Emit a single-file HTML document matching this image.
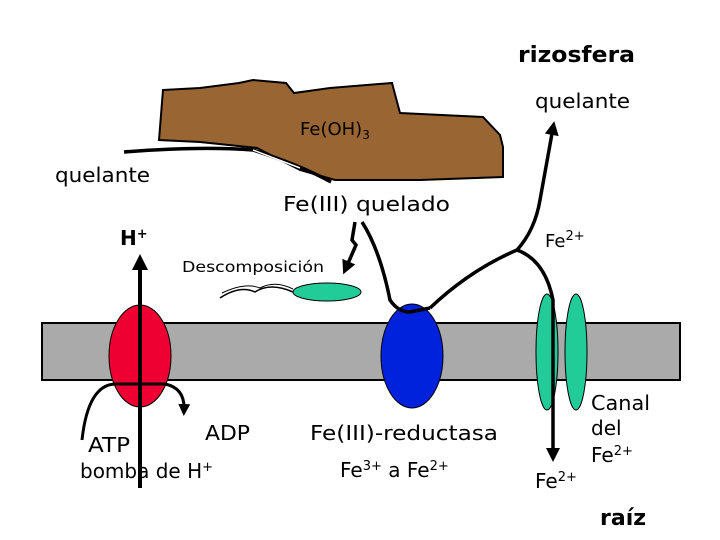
<!DOCTYPE html>
<html><head><meta charset="utf-8"><style>
html,body{margin:0;padding:0;background:#fff}
svg{display:block}
text{font-family:"DejaVu Sans","Liberation Sans",sans-serif;fill:#000}
</style></head><body>
<svg width="720" height="540" viewBox="0 0 720 540" xmlns="http://www.w3.org/2000/svg">
<defs>
<marker id="ah" viewBox="0 0 10 10" refX="5" refY="5" markerWidth="4" markerHeight="5" orient="auto-start-reverse"><path d="M0,0 L10,5 L0,10 z" fill="#000"/></marker>
</defs>
<path d="M163,90 L200,88 L239,83 L253,80 L286,83 L294,93 L330,88 L392,83 L400,113 L483,117 L500,135 L503,147 L503,177 L420,180 L335,180 L300,170 L257,148 L200,142 L159,140 Z" fill="#996633" stroke="#000" stroke-width="2"/>
<text x="300" y="135" font-size="18">Fe(OH)<tspan font-size="12" dy="4">3</tspan></text>
<path d="M124,152 Q200,146 253,150 Q300,165 331,182" fill="none" stroke="#000" stroke-width="3.5"/>
<path d="M253,150 L300,168" fill="none" stroke="#fff" stroke-width="1.5"/>
<rect x="42" y="323" width="638" height="57" fill="#aaaaaa" stroke="#000" stroke-width="2"/>
<ellipse cx="140" cy="356" rx="31" ry="51" fill="#ee0033" stroke="#000" stroke-width="1"/>
<line x1="140" y1="488" x2="140" y2="262" stroke="#000" stroke-width="4" marker-end="url(#ah)"/>
<path d="M82,440 Q88,385 115,384 L165,384 Q185,388 184,410" fill="none" stroke="#000" stroke-width="3" marker-end="url(#ah)"/>
<ellipse cx="412" cy="356" rx="31" ry="52" fill="#0022dd" stroke="#000" stroke-width="1"/>
<ellipse cx="547" cy="352" rx="11" ry="58" fill="#22cc99" stroke="#000" stroke-width="1"/>
<ellipse cx="576" cy="352" rx="11" ry="58" fill="#22cc99" stroke="#000" stroke-width="1"/>
<ellipse cx="327" cy="292" rx="34" ry="9" fill="#22cc99" stroke="#000" stroke-width="1"/>
<path d="M220,298 Q240,285 255,292 Q270,282 293,292" fill="none" stroke="#000" stroke-width="1.5"/>
<path d="M222,293 Q245,282 260,288 Q275,280 293,289" fill="none" stroke="#000" stroke-width="1"/>
<path d="M355,222 L352,240 L356,245 L346,268" fill="none" stroke="#000" stroke-width="3.5" marker-end="url(#ah)"/>
<path d="M362,222 Q380,250 390,300 Q398,312 410,312 L430,308" fill="none" stroke="#000" stroke-width="3.5"/>
<path d="M430,308 Q470,270 517,250 Q535,230 540,200 L553,128" fill="none" stroke="#000" stroke-width="3.5" marker-end="url(#ah)"/>
<path d="M517,250 Q545,260 553,300 L553,455" fill="none" stroke="#000" stroke-width="3.5" marker-end="url(#ah)"/>
<text x="518" y="62" font-size="22" font-weight="bold" textLength="117" lengthAdjust="spacingAndGlyphs">rizosfera</text>
<text x="535" y="108" font-size="20" textLength="95" lengthAdjust="spacingAndGlyphs">quelante</text>
<text x="55" y="182" font-size="20" textLength="95" lengthAdjust="spacingAndGlyphs">quelante</text>
<text x="283" y="211" font-size="20" textLength="167" lengthAdjust="spacingAndGlyphs">Fe(III) quelado</text>
<text x="120" y="245" font-size="20" font-weight="bold">H<tspan font-size="13" dy="-7">+</tspan></text>
<text x="545" y="247" font-size="18">Fe<tspan font-size="13" dy="-7">2+</tspan></text>
<text x="182" y="272" font-size="15" textLength="142" lengthAdjust="spacingAndGlyphs">Descomposición</text>
<text x="88" y="452" font-size="20" textLength="42" lengthAdjust="spacingAndGlyphs">ATP</text>
<text x="205" y="440" font-size="20" textLength="45" lengthAdjust="spacingAndGlyphs">ADP</text>
<text x="80" y="478" font-size="20">bomba de H<tspan font-size="13" dy="-7">+</tspan></text>
<text x="310" y="440" font-size="20" textLength="188" lengthAdjust="spacingAndGlyphs">Fe(III)-reductasa</text>
<text x="340" y="477" font-size="20">Fe<tspan font-size="13" dy="-7">3+</tspan><tspan dy="7"> a  Fe</tspan><tspan font-size="13" dy="-7">2+</tspan></text>
<text x="591" y="410" font-size="20" textLength="59" lengthAdjust="spacingAndGlyphs">Canal</text>
<text x="591" y="435" font-size="20">del</text>
<text x="591" y="462" font-size="20">Fe<tspan font-size="13" dy="-7">2+</tspan></text>
<text x="535" y="488" font-size="20">Fe<tspan font-size="13" dy="-7">2+</tspan></text>
<text x="600" y="525" font-size="22" font-weight="bold">raíz</text>
</svg>
</body></html>
